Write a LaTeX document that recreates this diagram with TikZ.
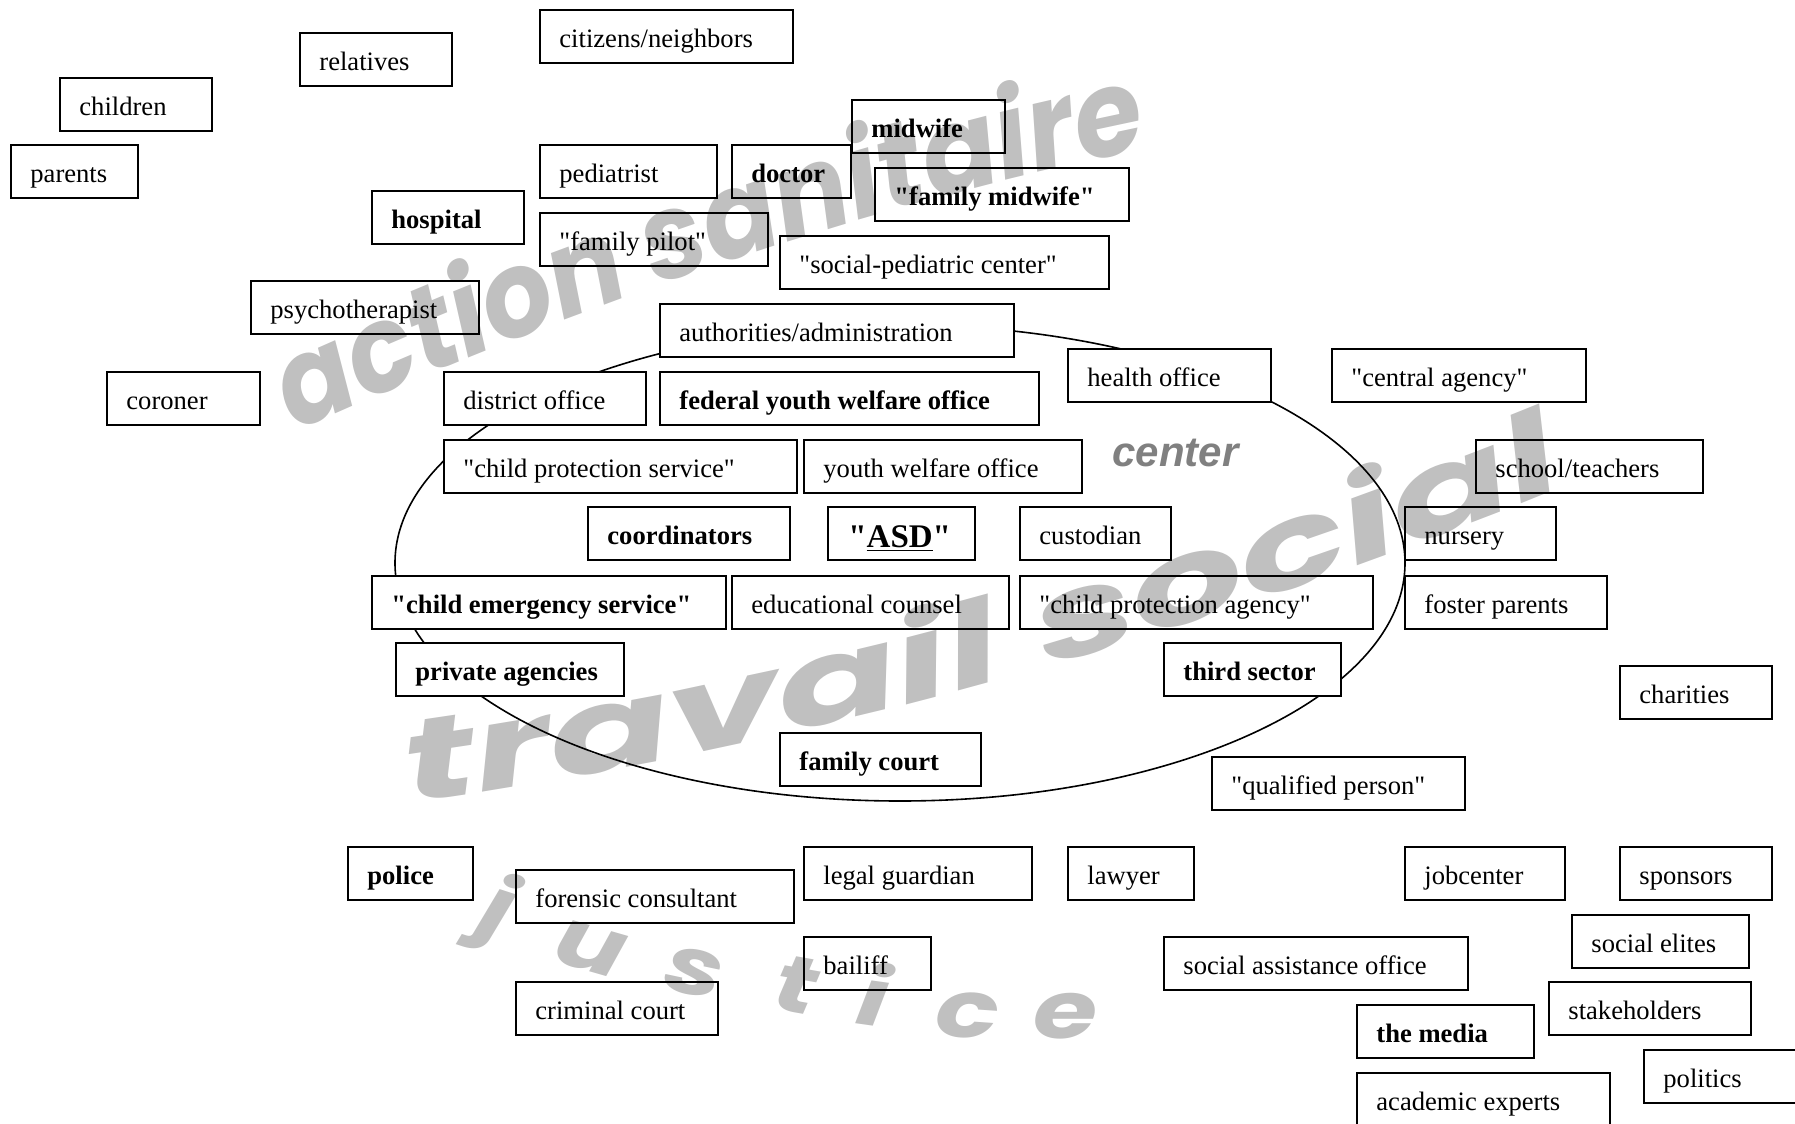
\documentclass[tikz,border=0pt]{standalone}
\usepackage{fontspec}
\setmainfont{Liberation Serif}[Ligatures=TeXOff]
\newfontfamily\wmA{Poppins}[FakeStretch=0.92]
\newfontfamily\wmB{Poppins}[FakeStretch=1.55]
\newfontfamily\wmC{Poppins}[FakeStretch=1.3]
\newfontfamily\ctrfont{Liberation Sans}
\usetikzlibrary{decorations.text}
\definecolor{wmgray}{RGB}{192,192,192}
\definecolor{ctrgray}{RGB}{128,128,128}
\pgfdeclarelayer{wm}
\pgfdeclarelayer{ring}
\pgfsetlayers{wm,ring,main}
\tikzset{
  boxst/.style={draw=black, line width=1.1pt, minimum height=26.5pt, inner sep=0pt, outer sep=0pt, anchor=north west},
  lbl/.style={anchor=base west, inner sep=0pt, font=\fontsize{13.3}{16}\selectfont},
  bf/.style={font=\fontsize{13.3}{16}\selectfont\bfseries},
  ringst/.style={draw=black, line width=0.8pt},
  jl/.style={anchor=base, inner sep=0pt, text=wmgray, font=\wmC\bfseries\itshape\fontsize{40}{40}\selectfont}
}
% #1 extra label style, #2 name, #3 x, #4 y, #5 width (px), #6 text
\newcommand\bx[6][]{%
  \node[boxst, minimum width=#5*0.5pt] (#2) at (#3,#4) {};
  \node[lbl,#1] (#2-t) at ([shift={(19,37)}]#2.north west) {#6};
}
\begin{document}
\begin{tikzpicture}[x=0.5pt,y=-0.5pt]
\useasboundingbox (0,0) rectangle (1795,1124);

% boxes
\bx{children}{60}{78}{152}{children}
\bx{relatives}{300}{33}{152}{relatives}
\bx{citizens}{540}{10}{253}{citizens/neighbors}
\bx{parents}{11}{145}{127}{parents}
\bx{pediatrist}{540}{145}{177}{pediatrist}
\bx[bf]{doctor}{732}{145}{119}{doctor}
\bx[bf]{midwife}{852}{100}{153}{midwife}
\bx[bf]{fammid}{875}{168}{254}{"family midwife"}
\bx[bf]{hospital}{372}{191}{152}{hospital}
\bx{fampilot}{540}{213}{228}{"family pilot"}
\bx{socped}{780}{236}{329}{"social-pediatric center"}
\bx{psycho}{251}{281}{228}{psychotherapist}
\bx{coroner}{107}{372}{153}{coroner}
\bx{authorities}{660}{304}{354}{authorities/administration}
\bx{district}{444}{372}{202}{district office}
\bx[bf]{federal}{660}{372}{379}{federal youth welfare office}
\bx{health}{1068}{349}{203}{health office}
\bx{central}{1332}{349}{254}{"central agency"}
\bx{cps}{444}{440}{353}{"child protection service"}
\bx{ywo}{804}{440}{278}{youth welfare office}
\bx{school}{1476}{440}{227}{school/teachers}
\bx[bf]{coordinators}{588}{507}{202}{coordinators}
\node[boxst, minimum width=147*0.5pt] (asd) at (828,507) {};
\node[anchor=base west, inner sep=0pt, font=\fontsize{16.5}{20}\selectfont\bfseries] (asd-t) at ([shift={(20,40)}]asd.north west) {"\underline{ASD}"};
\bx{custodian}{1020}{507}{151}{custodian}
\bx{nursery}{1405}{507}{151}{nursery}
\bx[bf]{ces}{372}{576}{354}{"child emergency service"}
\bx{edu}{732}{576}{277}{educational counsel}
\bx{cpa}{1020}{576}{353}{"child protection agency"}
\bx{foster}{1405}{576}{202}{foster parents}
\bx[bf]{private}{396}{643}{228}{private agencies}
\bx[bf]{third}{1164}{643}{177}{third sector}
\bx{charities}{1620}{666}{152}{charities}
\bx[bf]{famcourt}{780}{733}{201}{family court}
\bx{qualified}{1212}{757}{253}{"qualified person"}
\bx[bf]{police}{348}{847}{125}{police}
\bx{forensic}{516}{870}{278}{forensic consultant}
\bx{legal}{804}{847}{228}{legal guardian}
\bx{lawyer}{1068}{847}{126}{lawyer}
\bx{jobcenter}{1405}{847}{160}{jobcenter}
\bx{sponsors}{1620}{847}{152}{sponsors}
\bx{bailiff}{804}{937}{127}{bailiff}
\bx{socassist}{1164}{937}{304}{social assistance office}
\bx{elites}{1572}{915}{177}{social elites}
\bx{criminal}{516}{982}{202}{criminal court}
\bx[bf]{media}{1357}{1005}{177}{the media}
\bx{stakeholders}{1549}{982}{202}{stakeholders}
\bx{politics}{1644}{1050}{200}{politics}
\bx{academic}{1357}{1073}{253}{academic experts}

% label "center"
\node[anchor=base west, inner sep=0pt, text=ctrgray, font=\ctrfont\bfseries\itshape\fontsize{21}{24}\selectfont] (ctrlabel) at (1112,466) {center};

% the ring, hidden inside the boxes
\begin{pgfonlayer}{ring}
\begin{scope}[even odd rule]
\clip (-20,-20) rectangle (1815,1144)
  \foreach \n in {authorities,district,federal,health,cps,ywo,ces,private,third,famcourt,nursery,foster,cpa}
  {(\n.north west) rectangle (\n.south east)};
\draw[ringst] (900,563) ellipse [x radius=252.5pt, y radius=119pt];
\end{scope}
\end{pgfonlayer}

% watermarks
\begin{pgfonlayer}{wm}
\path[decoration={text along path, text color=wmgray,
   text={|\wmA\bfseries\itshape\fontsize{60}{64}\selectfont|action sanitaire},
   text align={fit to path}}, decorate]
  (296,432) .. controls (568,310) and (835,214) .. (1125,153);
\path[decoration={text along path, text color=wmgray,
   text={|\wmB\bfseries\itshape\fontsize{58}{60}\selectfont|travail social},
   text align={fit to path}}, decorate]
  (408,803) .. controls (806,747) and (1186,640) .. (1556,490);
\node[jl, rotate=-18] (wj) at (490,933) {j};
\node[jl, rotate=-16] (wu) at (584,970) {u};
\node[jl, rotate=-12] (ws) at (690,995) {s};
\node[jl, rotate=-10] (wt) at (791,1012) {t};
\node[jl, rotate=-8] (wi) at (870,1026) {i};
\node[jl, rotate=-4] (wc) at (966,1038) {c};
\node[jl, rotate=0] (we) at (1066,1038) {e};
\end{pgfonlayer}
\end{tikzpicture}
\end{document}
